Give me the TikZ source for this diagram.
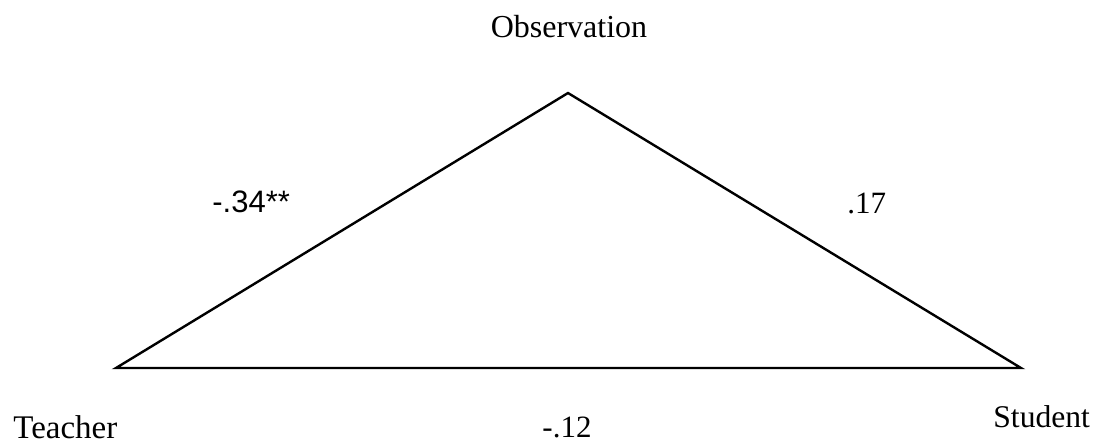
\documentclass[tikz,border=0pt]{standalone}
\usepackage{fontspec}
\setmainfont{Liberation Serif}
\newfontfamily\arialfont{Liberation Sans}
\tikzset{
    corner/.style={inner sep=0pt, font=\fontsize{15.8}{18}\selectfont},
    edgelabel/.style={inner sep=0pt, font=\fontsize{15.5}{18}\selectfont},
    side/.style={line width=1.2pt, line join=miter}
}
\begin{document}
\begin{tikzpicture}[x=0.5pt, y=-0.5pt]
    \useasboundingbox (0,0) rectangle (1098,446);

    \coordinate (Top) at (568,93);
    \coordinate (Left) at (116,368);
    \coordinate (Right) at (1021,368);

    % Vertices

    \node[corner, anchor=base, font=\fontsize{16}{19}\selectfont] (Obs) at (569,37) {Observation};
    \node[corner, anchor=base west, font=\fontsize{16.5}{19}\selectfont] (Teacher) at (13,438) {Teacher};
    \node[corner, anchor=base west] (Student) at (993,427) {Student};

    % Triangle

    \draw[side] (Top) -- (Left) -- (Right) -- cycle;

    % Correlations

    \node[edgelabel, anchor=base west, font=\arialfont\fontsize{15.5}{18}\selectfont] (LabTO) at (212,212) {-.34**};
    \node[edgelabel, anchor=base west] (LabOS) at (847,213) {.17};
    \node[edgelabel, anchor=base] (LabTS) at (567,437) {-.12};

\end{tikzpicture}
\end{document}
